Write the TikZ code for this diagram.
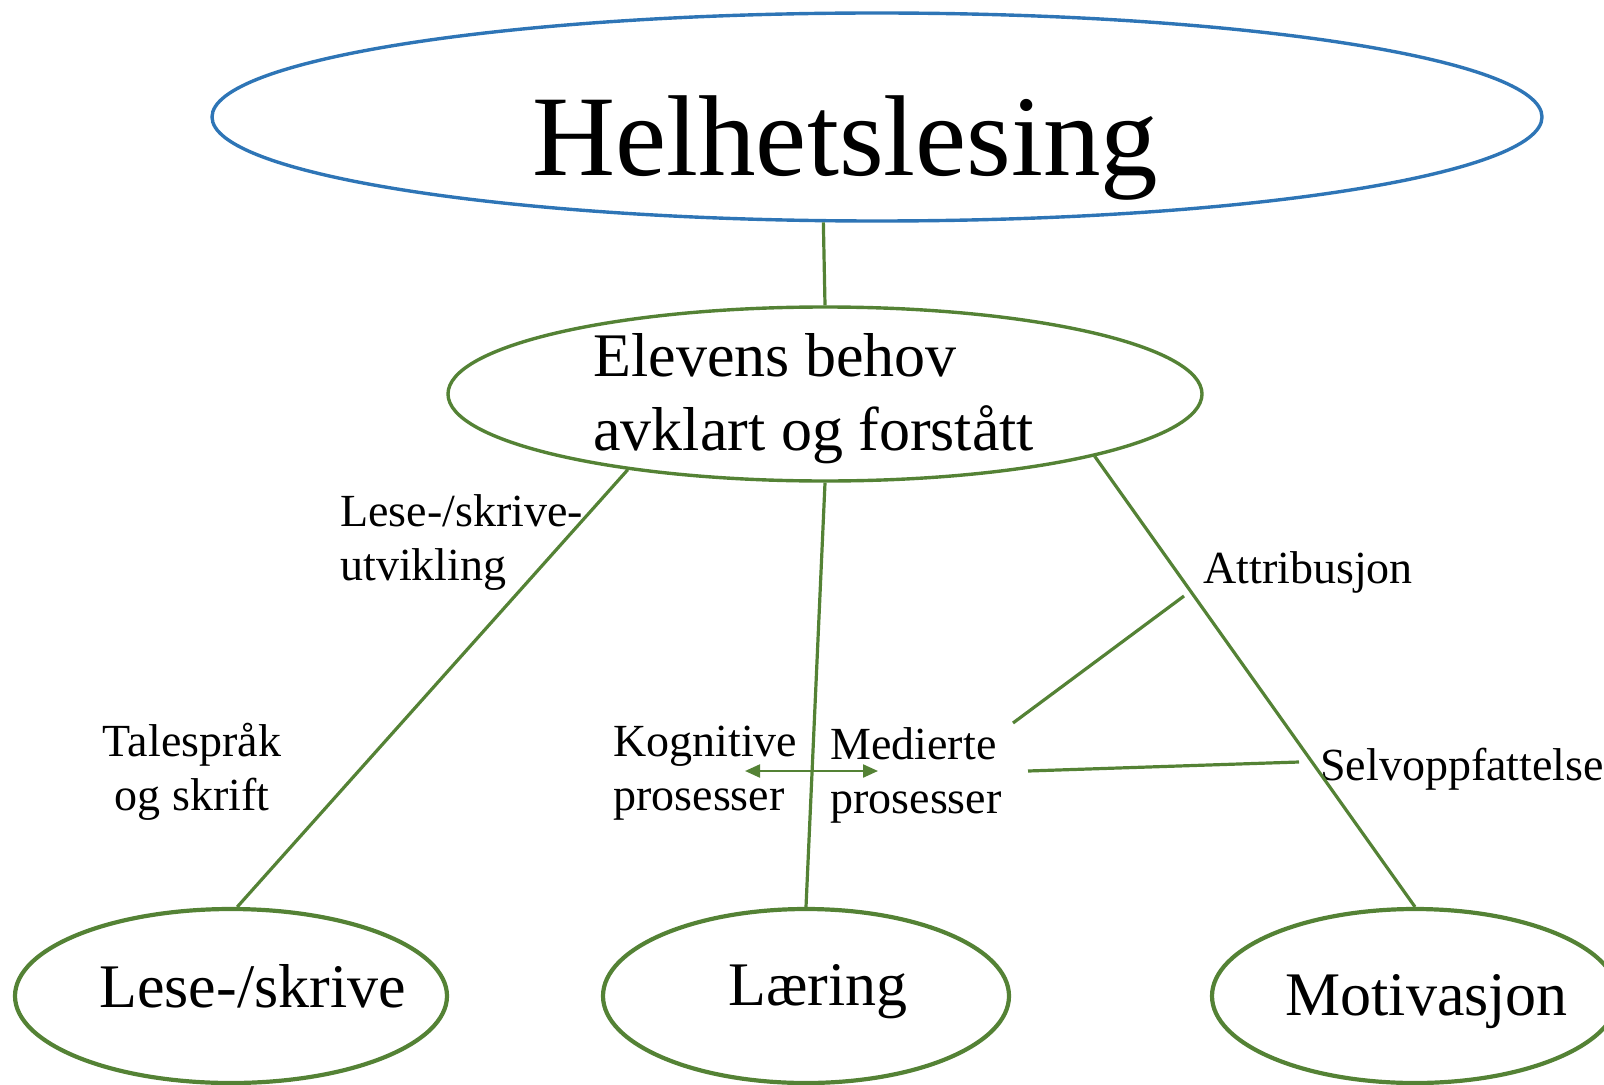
\documentclass[tikz,border=0pt]{standalone}
\usepackage{fontspec}
\setmainfont{Liberation Serif}
\usetikzlibrary{shapes.geometric,arrows.meta}
\definecolor{leafgreen}{HTML}{548235}
\definecolor{skyblue}{HTML}{2E75B6}
\tikzset{
  bubble/.style={ellipse, draw=leafgreen, line width=1.7pt, inner sep=0pt},
  tag/.style={anchor=base west, inner sep=0pt, align=left,
    font=\fontsize{23}{27}\selectfont},
  link/.style={draw=leafgreen, line width=1.6pt},
}
\begin{document}
\begin{tikzpicture}[x=0.5pt,y=0.5pt]
  \useasboundingbox (0,0) rectangle (1604,1084);
  % ellipses
  \node[bubble, draw=skyblue, minimum width=665pt, minimum height=104pt] (top) at (877,967) {};
  \node[bubble, minimum width=377pt, minimum height=87pt] (mid) at (825,690) {};
  \node[bubble, line width=2.1pt, minimum width=216pt, minimum height=87pt] (lese) at (231,88) {};
  \node[bubble, line width=2.1pt, minimum width=203pt, minimum height=87pt] (laering) at (806,88) {};
  \node[bubble, line width=2.1pt, minimum width=203pt, minimum height=87pt] (motiv) at (1415,88) {};
  % texts (base = last line)
  \node[tag, font=\fontsize{57.5}{60}\selectfont] (top-t) at (532,908) {Helhetslesing};
  \node[tag, font=\fontsize{31}{37}\selectfont] (mid-t) at (593,634) {Elevens behov\\avklart og forstått};
  \node[tag, font=\fontsize{31}{36}\selectfont] (lese-t) at (99,77) {Lese-/skrive};
  \node[tag, font=\fontsize{31}{36}\selectfont] (laering-t) at (728,79) {Læring};
  \node[tag, font=\fontsize{31}{36}\selectfont] (motiv-t) at (1285,69) {Motivasjon};
  \node[tag] (utv) at (340,504) {Lese-/skrive-\\utvikling};
  \node[tag, anchor=base, align=center] (tale) at (192,274) {Talespråk\\og skrift};
  \node[tag] (kog) at (613,274) {Kognitive\\prosesser};
  \node[tag] (med) at (830,271) {Medierte\\prosesser};
  \node[tag] (attr) at (1203,501) {Attribusjon};
  \node[tag] (selv) at (1320,304) {Selvoppfattelse};
  % loose ends
  \coordinate (arr-l) at (745,313);
  \coordinate (arr-r) at (878,313);
  \coordinate (attr-a) at (1013,361);
  \coordinate (attr-b) at (1184,488);
  \coordinate (selv-a) at (1028,313);
  \coordinate (selv-b) at (1299,322);
  \begin{scope}[link]
    \draw (top.243) to (mid.north);
    \draw (mid.201) to (lese.86);
    \draw (mid.south) to (laering.north);
    \draw (mid.347) to (motiv.north);
    \draw (attr-a) to (attr-b);
    \draw (selv-a) to (selv-b);
    \draw[line width=1.1pt, {Triangle[length=7.5pt,width=6.5pt]}-{Triangle[length=7.5pt,width=6.5pt]}] (arr-l) to (arr-r);
  \end{scope}
\end{tikzpicture}
\end{document}
